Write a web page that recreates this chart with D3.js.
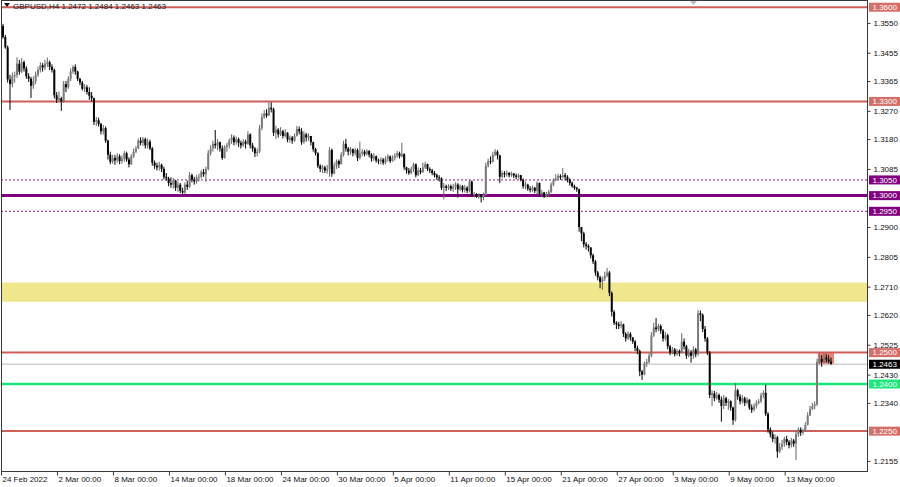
<!DOCTYPE html>
<html><head><meta charset="utf-8">
<script src="https://cdn.jsdelivr.net/npm/d3@7"></script>
<style>
html,body{margin:0;padding:0;background:#fff;}
svg{display:block;font-family:"Liberation Sans",Arial,sans-serif;}
</style>
</head><body>
<svg id="c" width="900" height="487"></svg>
<script>
// ---------------- DATA ----------------
const symbolTitle = "GBPUSD,H4";
const lastOHLC = ["1.2472", "1.2484", "1.2463", "1.2463"];
const dateLabels = ["24 Feb 2022","2 Mar 00:00","8 Mar 00:00","14 Mar 00:00","18 Mar 00:00","24 Mar 00:00","30 Mar 00:00","5 Apr 00:00","11 Apr 00:00","15 Apr 00:00","21 Apr 00:00","27 Apr 00:00","3 May 00:00","9 May 00:00","13 May 00:00"];
const dateLabelBars = [0,24,48,72,96,120,144,168,192,216,240,264,288,312,336];
// prices in pips: value = 1 + p/10000
const firstOpen = 3540;
const closes = [
3505,3472,3370,3355,3380,3384, 3420,3395,3425,3405,3380,3372, 3350,3365,3385,3400,3415,3408,
3420,3425,3410,3400,3320,3305, 3310,3300,3355,3345,3372,3395, 3410,3395,3372,3360,3340,3345,
3330,3318,3310,3235,3240,3228, 3205,3215,3175,3130,3108,3120, 3112,3125,3110,3118,3135,3115,
3100,3125,3140,3150,3175,3168, 3180,3160,3172,3150,3105,3095, 3090,3098,3085,3060,3055,3040,
3035,3048,3025,3035,3015,3010, 3035,3028,3065,3050,3045,3058, 3060,3075,3068,3085,3135,3150,
3165,3160,3170,3150,3120,3155, 3160,3175,3185,3170,3180,3168, 3160,3172,3165,3195,3160,3150,
3135,3140,3215,3250,3262,3255, 3280,3275,3200,3210,3195,3205, 3190,3200,3178,3185,3175,3190,
3212,3205,3170,3195,3185,3190, 3170,3148,3135,3095,3085,3090, 3080,3085,3145,3070,3095,3110,
3100,3130,3165,3150,3140,3148, 3135,3145,3120,3135,3140,3132, 3142,3130,3118,3125,3112,3110,
3115,3105,3118,3125,3110,3120, 3128,3135,3125,3132,3090,3080, 3072,3085,3100,3065,3080,3075,
3090,3100,3085,3080,3072,3065, 3058,3055,3025,3030,3025,3030, 3022,3028,3035,3020,3030,3018,
3025,3015,3045,3002,3005,2998, 3000,2995,3002,3095,3110,3108, 3130,3140,3128,3060,3072,3068,
3072,3065,3070,3064,3060,3065, 3050,3030,3035,3022,3018,3025, 3015,3040,3005,3010,2998,3005,
3012,3035,3050,3055,3062,3058, 3065,3060,3050,3040,3030,3025, 3020,2900,2880,2845,2840,2835,
2810,2790,2755,2740,2725,2735, 2745,2755,2690,2630,2595,2590, 2585,2590,2560,2545,2560,2548,
2535,2515,2505,2440,2430,2465, 2470,2490,2555,2580,2575,2585, 2570,2545,2555,2520,2500,2510,
2495,2505,2500,2535,2520,2490, 2500,2490,2510,2495,2625,2620, 2575,2545,2500,2365,2370,2355,
2365,2350,2330,2355,2340,2345, 2325,2285,2380,2360,2345,2355, 2340,2350,2325,2318,2330,2340,
2345,2365,2372,2305,2255,2240, 2225,2230,2185,2200,2210,2225, 2215,2205,2220,2210,2240,2255,
2245,2252,2270,2300,2320,2330, 2335,2470,2480,2470,2485,2478, 2472,2463];
const highs = [
3547,3512,3478,3385,3392,3395, 3440,3432,3438,3430,3412,3390, 3378,3380,3395,3410,3425,3422,
3432,3440,3430,3418,3405,3330, 3332,3315,3365,3365,3380,3405, 3415,3418,3398,3375,3365,3355,
3352,3345,3330,3312,3250,3248, 3232,3225,3220,3178,3140,3130, 3130,3135,3132,3128,3142,3140,
3122,3132,3150,3158,3182,3186, 3187,3185,3182,3178,3155,3112, 3105,3108,3102,3092,3072,3060,
3058,3056,3050,3045,3040,3025, 3042,3048,3075,3070,3060,3065, 3070,3082,3085,3092,3145,3160,
3175,3209,3180,3172,3160,3160, 3168,3182,3195,3192,3188,3185, 3175,3180,3178,3205,3198,3168,
3155,3150,3225,3262,3272,3275, 3298,3297,3280,3222,3215,3218, 3210,3212,3202,3192,3190,3198,
3222,3220,3215,3205,3200,3198, 3180,3172,3152,3138,3100,3098, 3095,3098,3155,3150,3105,3115,
3115,3138,3175,3181,3155,3155, 3150,3152,3150,3172,3148,3145, 3148,3145,3135,3135,3128,3118,
3122,3120,3125,3132,3128,3128, 3135,3142,3140,3168,3135,3092, 3088,3092,3105,3102,3090,3088,
3105,3108,3102,3090,3085,3078, 3070,3065,3058,3040,3035,3036, 3035,3038,3042,3040,3036,3034,
3034,3030,3050,3048,3012,3008, 3008,3005,3010,3105,3118,3125, 3140,3148,3145,3130,3080,3078,
3080,3075,3076,3072,3070,3070, 3066,3055,3045,3038,3030,3032, 3028,3045,3042,3018,3012,3012,
3018,3042,3055,3068,3070,3068, 3088,3072,3065,3055,3045,3035, 3028,3022,2895,2885,2852,2845,
2830,2815,2795,2760,2745,2742, 2758,2770,2760,2695,2635,2600, 2598,2600,2592,2565,2568,2565,
2550,2540,2522,2510,2445,2472, 2480,2498,2565,2595,2610,2592, 2590,2575,2565,2560,2525,2518,
2515,2512,2510,2562,2545,2525, 2512,2508,2520,2515,2636,2634, 2625,2585,2550,2505,2380,2378,
2375,2370,2360,2365,2360,2352, 2348,2328,2403,2385,2368,2365, 2360,2358,2352,2335,2338,2348,
2352,2372,2380,2398,2310,2262, 2248,2240,2235,2212,2222,2232, 2235,2222,2228,2225,2250,2262,
2262,2258,2278,2310,2330,2340, 2345,2480,2497,2492,2498,2495, 2492,2484];
const lows = [
3500,3468,3360,3273,3345,3360, 3375,3385,3390,3395,3372,3362, 3311,3340,3355,3378,3392,3395,
3400,3410,3400,3392,3310,3295, 3298,3270,3295,3330,3340,3365, 3388,3385,3365,3352,3335,3330,
3322,3305,3300,3225,3222,3220, 3195,3195,3168,3115,3100,3102, 3098,3105,3100,3102,3108,3108,
3090,3098,3120,3135,3148,3160, 3158,3150,3150,3145,3095,3085, 3080,3080,3075,3052,3048,3030,
3025,3022,3015,3012,3008,3000, 3005,3018,3025,3042,3035,3038, 3045,3055,3060,3044,3080,3128,
3140,3150,3145,3140,3114,3118, 3140,3150,3165,3160,3162,3155, 3150,3155,3150,3162,3150,3140,
3123,3125,3135,3208,3245,3248, 3258,3265,3190,3180,3185,3190, 3182,3185,3170,3168,3165,3172,
3188,3195,3162,3165,3172,3175, 3160,3140,3128,3088,3075,3072, 3072,3070,3060,3060,3068,3085,
3088,3100,3125,3140,3128,3130, 3125,3128,3110,3115,3125,3125, 3128,3122,3108,3110,3105,3100,
3100,3098,3100,3108,3104,3108, 3112,3120,3118,3122,3082,3070, 3066,3068,3075,3058,3062,3068,
3072,3085,3078,3072,3065,3058, 3050,3045,3018,2988,3015,3018, 3015,3012,3018,2994,3015,3010,
3010,3008,3010,2996,2995,2993, 2990,2978,2985,2998,3090,3100, 3105,3125,3115,3040,3055,3058,
3060,3058,3060,3056,3052,3055, 3045,3022,3020,3015,3010,3012, 3008,3005,2996,2998,2992,2995,
2995,3008,3030,3045,3048,3050, 3055,3048,3042,3032,3025,3018, 3012,2885,2855,2835,2828,2822,
2800,2782,2745,2730,2705,2700, 2728,2740,2680,2615,2588,2575, 2575,2578,2550,2535,2540,2538,
2528,2505,2495,2425,2413,2428, 2455,2465,2485,2550,2565,2568, 2560,2535,2538,2510,2492,2495,
2488,2490,2488,2498,2510,2480, 2485,2468,2480,2485,2490,2600, 2565,2535,2492,2355,2330,2345,
2350,2340,2280,2320,2330,2318, 2315,2270,2280,2350,2335,2338, 2330,2335,2318,2308,2312,2322,
2335,2340,2355,2298,2245,2230, 2215,2210,2165,2180,2190,2200, 2205,2195,2198,2200,2158,2232,
2235,2238,2248,2268,2298,2318, 2320,2330,2462,2455,2465,2468, 2465,2463];
const axisTicks = [1.3550,1.3455,1.3365,1.3270,1.3180,1.3085,1.2900,1.2805,1.2710,1.2620,1.2525,1.2430,1.2340,1.2155];
const redLevels = [1.3600, 1.3300, 1.2500, 1.2250];
const purpleSolidLevels = [1.3000];
const purpleDottedLevels = [1.3050, 1.2950];
const greenLevels = [1.2400];
const currentPrice = 1.2463;
const zoneBand = [1.2723, 1.2662];
const boxPrices = [1.2500, 1.2460];
const boxBars = [349.3, 356.3];

// ---------------- RENDER ----------------
const toP = p => 1 + p / 10000;
const bars = closes.map((c, i) => {
  const o = i === 0 ? firstOpen : closes[i - 1];
  return { i, o: toP(o), c: toP(c), h: toP(Math.max(highs[i], o, c)), l: toP(Math.min(lows[i], o, c)) };
});

const svg = d3.select("#c");
const L = 1, R = 867, T = 0, B = 471;
const x = d3.scaleLinear().domain([0, closes.length - 1]).range([3, 831]);
const y = d3.scaleLinear().domain([1.2123, 1.3623]).range([B, T]);

svg.append("rect").attr("width", 900).attr("height", 487).attr("fill", "#fff");
svg.append("defs").append("clipPath").attr("id", "plot")
  .append("rect").attr("x", L).attr("y", T).attr("width", R - L).attr("height", B - T);
const g = svg.append("g").attr("clip-path", "url(#plot)");

// yellow zone
g.append("rect").attr("x", L).attr("width", R - L)
  .attr("y", y(zoneBand[0])).attr("height", y(zoneBand[1]) - y(zoneBand[0]))
  .attr("fill", "#f0e68c");

// salmon rectangle
g.append("rect").attr("x", x(boxBars[0])).attr("width", x(boxBars[1]) - x(boxBars[0]))
  .attr("y", y(boxPrices[0])).attr("height", y(boxPrices[1]) - y(boxPrices[0]))
  .attr("fill", "#ef8479");

// level lines
function hline(p, color, w, dash) {
  const l = g.append("line").attr("x1", L).attr("x2", R).attr("y1", y(p)).attr("y2", y(p))
    .attr("stroke", color).attr("stroke-width", w);
  if (dash) l.attr("stroke-dasharray", dash);
}
hline(currentPrice, "#d0d0d0", 1.5);
redLevels.forEach(p => hline(p, "#cf5f5b", 2));
purpleDottedLevels.forEach(p => hline(p, "#8e1f8e", 1, "2,2"));
purpleSolidLevels.forEach(p => hline(p, "#800080", 3));
greenLevels.forEach(p => hline(p, "#19e87a", 2.5));

// candles
const cg = g.append("g");
bars.forEach(b => {
  const up = b.c >= b.o;
  const col = up ? "#7a7a7a" : "#050505";
  const xc = x(b.i);
  cg.append("line").attr("x1", xc).attr("x2", xc).attr("y1", y(b.h)).attr("y2", y(b.l))
    .attr("stroke", up ? "#666" : "#050505").attr("stroke-width", 1);
  const top = y(Math.max(b.o, b.c)), bot = y(Math.min(b.o, b.c));
  cg.append("rect").attr("x", xc - 1).attr("width", 2)
    .attr("y", top).attr("height", Math.max(1, bot - top)).attr("fill", col);
});

// frame
const fr = svg.append("g").attr("stroke", "#3a3a3a").attr("stroke-width", 1).attr("fill", "none");
fr.append("line").attr("x1", 1.5).attr("x2", 1.5).attr("y1", 0).attr("y2", B + 0.5);
fr.append("line").attr("x1", 1).attr("x2", R + 1).attr("y1", B + 0.5).attr("y2", B + 0.5);
fr.append("line").attr("x1", R + 0.5).attr("x2", R + 0.5).attr("y1", 0).attr("y2", B + 0.5);
fr.append("line").attr("x1", 1).attr("x2", R + 1).attr("y1", 0.5).attr("y2", 0.5);

// right axis
const ya = svg.append("g").attr("transform", `translate(${R + 0.5},0)`)
  .call(d3.axisRight(y).tickValues(axisTicks).tickSize(3).tickPadding(3).tickFormat(d3.format(".4f")));
ya.select(".domain").remove();
ya.selectAll("line").attr("stroke", "#3a3a3a");
ya.selectAll("text").attr("font-size", "8px").attr("fill", "#111").attr("font-family", "Liberation Sans, Arial, sans-serif");

// bottom axis
const xl = x.copy().range([x.range()[0] - 2, x.range()[1] - 2]);
const xa = svg.append("g").attr("transform", `translate(0,${B + 0.5})`)
  .call(d3.axisBottom(xl).tickValues(dateLabelBars).tickSize(4).tickFormat((d, i) => dateLabels[i]));
xa.select(".domain").remove();
xa.selectAll("line").attr("stroke", "#3a3a3a");
xa.selectAll("text").attr("text-anchor", "start").attr("x", 1).attr("y", 5)
  .attr("font-size", "8px").attr("fill", "#111").attr("font-family", "Liberation Sans, Arial, sans-serif");

// level label boxes
function tag(p, bg, fg) {
  const yy = y(p);
  svg.append("rect").attr("x", R + 2).attr("y", yy - 4.5).attr("width", 31).attr("height", 9).attr("fill", bg);
  svg.append("text").attr("x", R + 5.5).attr("y", yy).attr("dy", "0.34em")
    .attr("font-size", "8px").attr("fill", fg).text(d3.format(".4f")(p));
}
redLevels.forEach(p => tag(p, "#d46f6a", "#fff"));
purpleDottedLevels.forEach(p => tag(p, "#800080", "#fff"));
purpleSolidLevels.forEach(p => tag(p, "#800080", "#fff"));
greenLevels.forEach(p => tag(p, "#1de87c", "#fff"));
tag(currentPrice, "#000", "#fff");

// title
svg.append("path").attr("d", "M4,3 L10,3 L7,7 Z").attr("fill", "#111");
svg.append("text").attr("x", 13).attr("y", 9).attr("font-size", "8px").attr("fill", "#111")
  .text(symbolTitle + "  " + lastOHLC.join(" "));
// chart shift marker
svg.append("path").attr("d", "M690,1 L697,1 L693.5,5 Z").attr("fill", "#bdbdbd");
</script>
</body></html>
